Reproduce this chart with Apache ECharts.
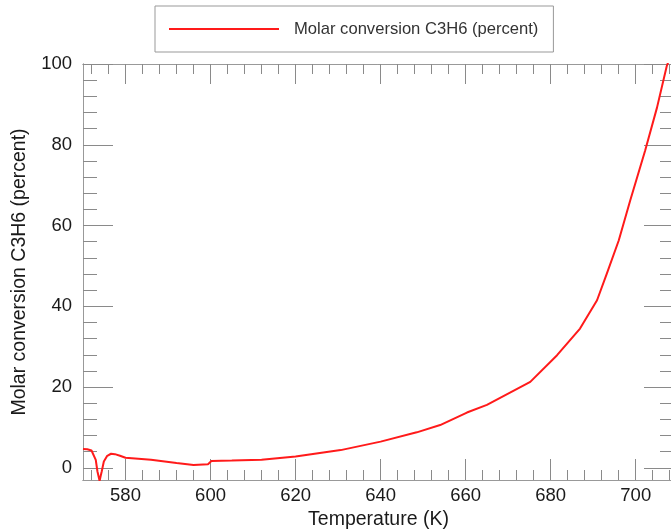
<!DOCTYPE html>
<html>
<head>
<meta charset="utf-8">
<title>Molar conversion C3H6</title>
<script src="https://cdn.jsdelivr.net/npm/echarts@6.0.0/dist/echarts.min.js"></script>
<style>
  html, body { margin: 0; padding: 0; background: #fff; }
  #chart { width: 671px; height: 531px; }
</style>
</head>
<body>
<div id="chart"></div>
<script>
// Data
const temperature = [570, 571, 572, 572.4, 573, 573.4, 573.9, 574.4, 574.9, 575.7, 576.6, 577.5, 578.7, 580,
  586, 592, 596, 599.4, 600.2, 605, 612, 620, 630.6, 640, 648.5, 654, 660.3, 665,
  675.2, 681.5, 686.9, 690.9, 693.2, 696, 698.7, 702.2, 705, 707.3, 708.2];
const conversion = [4.7, 4.6, 4.3, 4.0, 2.0, -0.9, -3.2, -0.9, 1.6, 3.0, 3.5, 3.4, 3.0, 2.5,
  2.0, 1.2, 0.7, 0.9, 1.7, 1.8, 2.0, 2.8, 4.4, 6.5, 8.8, 10.6, 13.7, 15.6,
  21.3, 27.9, 34.5, 41.5, 48.1, 56.3, 66.2, 78.5, 89.2, 99.5, 102];

const xMajorTicks = [580, 600, 620, 640, 660, 680, 700];
const xMinorTicks = [572, 576, 584, 588, 592, 596, 604, 608, 612, 616, 624, 628, 632, 636,
  644, 648, 652, 656, 664, 668, 672, 676, 684, 688, 692, 696, 704, 708];
const yMajorTicks = [0, 20, 40, 60, 80, 100];
const yMinorTicks = [4, 8, 12, 16, 24, 28, 32, 36, 44, 48, 52, 56, 64, 68, 72, 76, 84, 88, 92, 96];

const seriesName = 'Molar conversion C3H6 (percent)';
const fontFamily = 'Liberation Sans, Arial, Helvetica, sans-serif';
const tickColor = '#8a8a8a';

// one axis per tick set, all stacked on the same grid edge
function makeAxis(kind, position, ticks, tickLength, extra) {
  const axis = {
    type: 'value',
    position: position,
    min: kind === 'x' ? 570 : -3,
    max: kind === 'x' ? 709 : 100,
    axisLine: { show: true, onZero: false, lineStyle: { color: '#999', width: 1 } },
    axisTick: {
      show: true,
      inside: true,
      length: tickLength,
      customValues: ticks,
      lineStyle: { color: tickColor, width: 1 }
    },
    axisLabel: { show: false },
    splitLine: { show: false },
    minorTick: { show: false }
  };
  return Object.assign(axis, extra || {});
}

const labelStyle = { fontFamily: fontFamily, fontSize: 18.5, color: '#1a1a1a' };

const chart = echarts.init(document.getElementById('chart'), null, { renderer: 'canvas' });

chart.setOption({
  animation: false,
  backgroundColor: '#fff',
  grid: { left: 83, top: 64, width: 591, height: 416, containLabel: false, outerBoundsMode: 'none' },
  legend: {
    left: 155,
    top: 6,
    padding: [14, 15, 14, 14],
    icon: 'rect',
    itemWidth: 110,
    itemHeight: 2,
    borderColor: '#999',
    borderWidth: 1,
    borderRadius: 0,
    textStyle: { fontFamily: fontFamily, fontSize: 16.6, color: '#333', padding: [0, 0, 0, 10], lineHeight: 18 },
    data: [seriesName]
  },
  xAxis: [
    makeAxis('x', 'bottom', xMajorTicks, 21, {
      name: 'Temperature (K)',
      nameLocation: 'middle',
      nameGap: 25,
      nameTextStyle: { fontFamily: fontFamily, fontSize: 19.5, color: '#1a1a1a' },
      axisLabel: Object.assign({ show: true, margin: 6, customValues: xMajorTicks }, labelStyle)
    }),
    makeAxis('x', 'bottom', xMinorTicks, 10),
    makeAxis('x', 'top', xMajorTicks, 20),
    makeAxis('x', 'top', xMinorTicks, 10)
  ],
  yAxis: [
    makeAxis('y', 'left', yMajorTicks, 30, {
      name: seriesName,
      nameLocation: 'middle',
      nameGap: 53,
      nameTextStyle: { fontFamily: fontFamily, fontSize: 19.5, color: '#1a1a1a' },
      axisLabel: Object.assign({ show: true, margin: 11, customValues: yMajorTicks }, labelStyle)
    }),
    makeAxis('y', 'left', yMinorTicks, 14),
    makeAxis('y', 'right', yMajorTicks, 30),
    makeAxis('y', 'right', yMinorTicks, 14)
  ],
  series: [
    {
      name: seriesName,
      type: 'line',
      xAxisIndex: 0,
      yAxisIndex: 0,
      data: temperature.map((t, i) => [t, conversion[i]]),
      symbol: 'none',
      smooth: false,
      clip: true,
      lineStyle: { color: '#ff1a1a', width: 2 },
      itemStyle: { color: '#ff1a1a' }
    }
  ]
});
</script>
</body>
</html>
